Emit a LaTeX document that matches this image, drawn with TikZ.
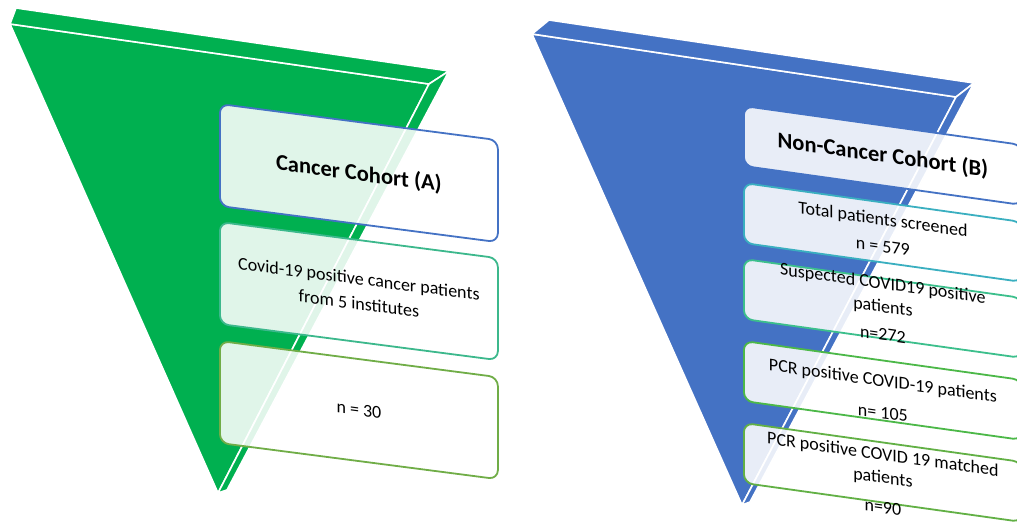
\documentclass[tikz,border=0pt]{standalone}
\usepackage{fontspec}
\setmainfont{Carlito}
\definecolor{funnelA}{HTML}{00B050}
\definecolor{funnelB}{HTML}{4472C4}
\definecolor{edgeblue}{HTML}{4472C4}
\definecolor{edgeteal}{HTML}{3CB88C}
\definecolor{edgeolive}{HTML}{70AD47}
\definecolor{edgecyan}{HTML}{3AAFC0}
\definecolor{edgemint}{HTML}{3CBF8C}
\definecolor{edgegreen}{HTML}{4CB848}
\definecolor{edgelime}{HTML}{62B045}
\begin{document}
\begin{tikzpicture}[x=1pt,y=-1pt,
    facet/.style={draw=white,line width=1.6pt,line join=round},
    box/.style={draw,line width=1.8pt,rounded corners=9pt,fill=white,fill opacity=.88,
        minimum width=278pt,inner sep=0pt,anchor=north west},
    boxA/.style={box,minimum height=102pt,yslant=-.13},
    boxB/.style={box,minimum height=60pt,yslant=-.14},
    head/.style={font=\fontsize{22.5}{27}\selectfont\bfseries,inner sep=0pt},
    lbl/.style={font=\fontsize{18}{23}\selectfont,align=center,inner sep=0pt}]
    \clip (0,0) rectangle (1017,532);
    % funnel A
    \draw[facet,fill=funnelA] (10,24) -- (429,84) -- (218,493) -- cycle;
    \draw[facet,fill=funnelA] (10,24) -- (16,8) -- (449,71) -- (429,84) -- cycle;
    \draw[facet,fill=funnelA] (429,84) -- (449,71) -- (227,490) -- (218,493) -- cycle;
    % funnel B
    \draw[facet,fill=funnelB] (532,34) -- (956,97) -- (742,505) -- cycle;
    \draw[facet,fill=funnelB] (532,34) -- (549,20) -- (974,83) -- (956,97) -- cycle;
    \draw[facet,fill=funnelB] (956,97) -- (974,83) -- (750,502) -- (742,505) -- cycle;
    % cancer cohort
    \node[boxA,draw=edgeblue] (boxA1) at (219,103) {};
    \node[boxA,draw=edgeteal] (boxA2) at (219,221) {};
    \node[boxA,draw=edgeolive] (boxA3) at (219,340) {};
    \node[head,yslant=-.13] (txtA1) at ([yshift=-1pt]boxA1.center) {Cancer Cohort (A)};
    \node[lbl,yslant=-.13] (txtA2) at (boxA2.center) {Covid-19 positive cancer patients\\[2pt]from 5 institutes};
    \node[lbl,yslant=-.13] (txtA3) at (boxA3.center) {n = 30};
    % non-cancer cohort
    \node[boxB,draw=edgeblue] (boxB1) at (743,105) {};
    \node[boxB,draw=edgecyan] (boxB2) at (743,182) {};
    \node[boxB,draw=edgemint] (boxB3) at (743,258) {};
    \node[boxB,draw=edgegreen] (boxB4) at (743,340) {};
    \node[boxB,draw=edgelime] (boxB5) at (743,422) {};
    \node[head,yslant=-.14] (txtB1) at (boxB1.center) {Non-Cancer Cohort (B)};
    \node[lbl,yslant=-.14] (txtB2) at (boxB2.center) {Total patients screened\\[4pt]n = 579};
    \node[lbl,yslant=-.14] (txtB3) at (boxB3.center) {Suspected COVID19 positive\\patients\\[5pt]n=272};
    \node[lbl,yslant=-.14] (txtB4) at ([yshift=-6pt]boxB4.center) {PCR positive COVID-19 patients\\[9pt]n= 105};
    \node[lbl,yslant=-.14] (txtB5) at ([yshift=-8pt]boxB5.center) {PCR positive COVID 19 matched\\patients\\[7pt]n=90};
\end{tikzpicture}
\end{document}
